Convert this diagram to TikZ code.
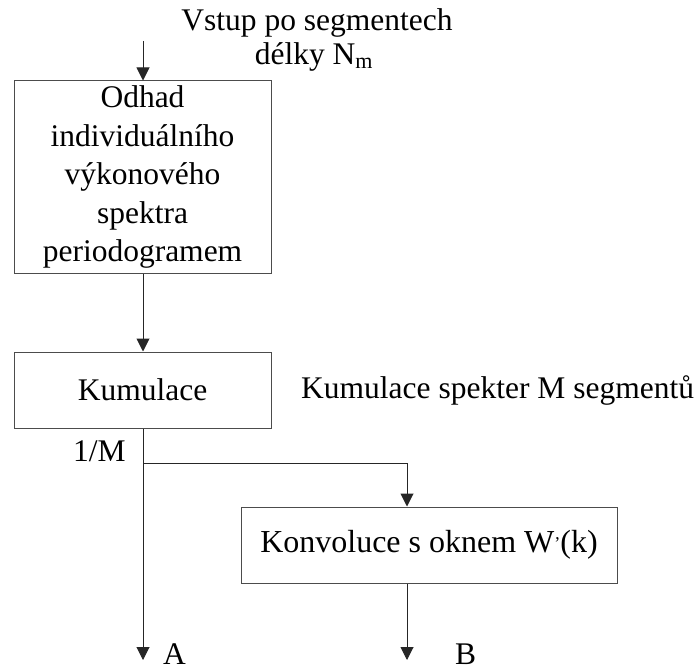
\documentclass[tikz,border=0pt]{standalone}
\usepackage{fontspec}
\setmainfont{Liberation Serif}
\usetikzlibrary{arrows.meta,calc}
\begin{document}
\begin{tikzpicture}[x=1pt,y=1pt,
  txt/.style={font=\fontsize{31.5pt}{38.5pt}\selectfont, inner sep=0pt},
  blockbox/.style={draw=black!70, line width=1pt, inner sep=0pt, align=center,
    font=\fontsize{31.5pt}{38.5pt}\selectfont},
  flow/.style={draw=black!85, line width=1pt, -{Triangle[length=13pt,width=13pt]}},
  wire/.style={draw=black!85, line width=1pt}]
  \useasboundingbox (0,0) rectangle (698,-668);

  % processing blocks
  \node[blockbox, minimum width=257pt, minimum height=192pt] (odhad) at (142.5,-177)
    {Odhad\\individuálního\\výkonového\\spektra\\periodogramem};
  \node[blockbox, minimum width=257pt, minimum height=76pt] (kum) at (142.5,-390) {Kumulace};
  \node[blockbox, minimum width=376pt, minimum height=76pt, font=\fontsize{32pt}{38.5pt}\selectfont] (konv) at (429,-545)
    {Konvoluce s oknem W{\fontsize{18pt}{18pt}\selectfont\raisebox{3pt}{’}}(k)};

  % labels
  \node[txt, anchor=base] (vstup) at (317,-31) {Vstup po segmentech};
  \node[txt, anchor=base] (delky) at (314,-65) {délky N\textsubscript{m}};
  \node[txt, anchor=base west] (kumtxt) at (301,-398) {Kumulace spekter M segmentů};
  \node[txt, anchor=base west] (scale) at (73,-461) {1/M};
  \node[txt, anchor=base west] (labA) at (163,-664) {A};
  \node[txt, anchor=base west] (labB) at (455,-664) {B};

  % junction and end points
  \coordinate (in) at (143,-41);
  \coordinate (split) at (143,-463);
  \coordinate (bend) at (407,-463);
  \coordinate (outA) at (143,-660);
  \coordinate (outB) at (407,-660);

  % connectors
  \draw[flow] (in) -- (in |- odhad.north);
  \draw[flow] (in |- odhad.south) -- (in |- kum.north);
  \draw[flow] (in |- kum.south) -- (outA);
  \draw[wire] (split) -- (bend);
  \draw[flow] (bend) -- (bend |- konv.north);
  \draw[flow] (bend |- konv.south) -- (outB);
\end{tikzpicture}
\end{document}
